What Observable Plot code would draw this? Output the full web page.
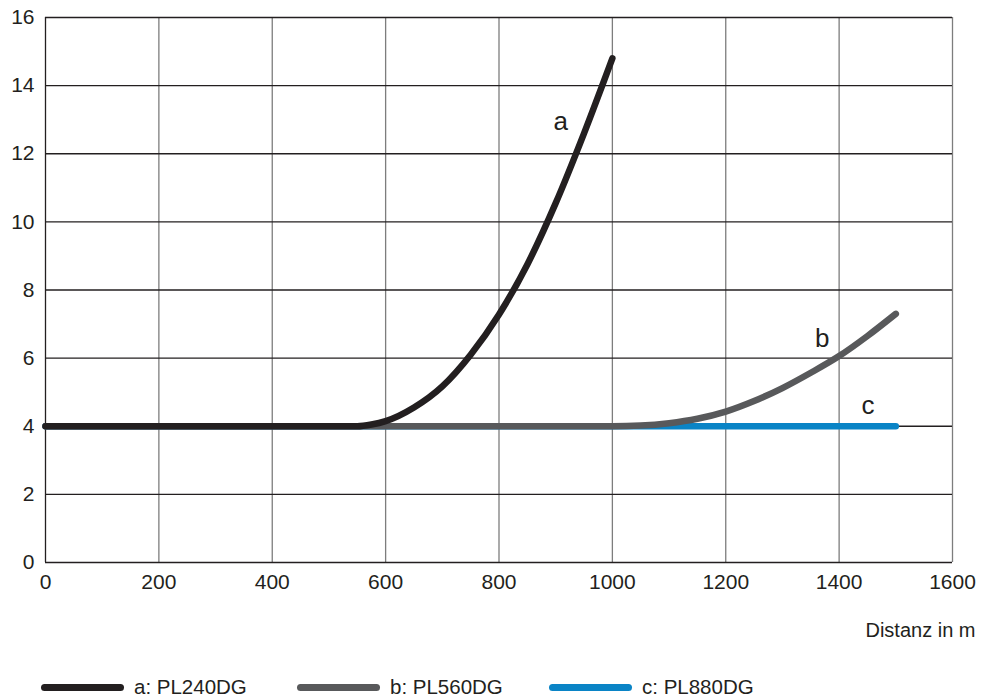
<!DOCTYPE html>
<html>
<head>
<meta charset="utf-8">
<script src="https://cdn.jsdelivr.net/npm/d3@7"></script>
<script src="https://cdn.jsdelivr.net/npm/@observablehq/plot@0.6"></script>
<style>
  html, body { margin: 0; padding: 0; background: #fff; }
  #wrap { position: relative; width: 981px; height: 698px; font-family: "Liberation Sans", Arial, sans-serif; color: #231f20; overflow: hidden; }
  .leg { position: absolute; top: 676px; height: 22px; display: flex; align-items: center; font-size: 20.5px; }
  .sw { width: 83px; height: 7px; border-radius: 4px; margin-right: 10px; }
</style>
</head>
<body>
<div id="wrap"></div>
<script>
// ---- data ----
const xTicks = [0, 200, 400, 600, 800, 1000, 1200, 1400, 1600];
const yTicks = [0, 2, 4, 6, 8, 10, 12, 14, 16];

const seriesNames = ["a: PL240DG", "b: PL560DG", "c: PL880DG"];
const seriesColors = ["#231f20", "#58595b", "#0a84c6"];

const aX = [0, 250, 500, 550, 575, 600, 650, 700, 750, 800, 850, 900, 950, 1000];
const aY = [4, 4, 4, 4.0, 4.05, 4.15, 4.55, 5.17, 6.1, 7.28, 8.75, 10.55, 12.6, 14.8];

const bX = [0, 500, 1000, 1050, 1100, 1150, 1200, 1250, 1300, 1350, 1400, 1450, 1500];
const bY = [4, 4, 4, 4.02, 4.09, 4.22, 4.43, 4.74, 5.12, 5.57, 6.06, 6.65, 7.3];

const cX = [0, 1500];
const cY = [4, 4];

const curveLabels = ["a", "b", "c"];
const labelX = [909, 1370, 1451];
const labelY = [12.95, 6.56, 4.6];

const xLabel = "Distanz in m";

// ---- build ----
const toRows = (xs, ys) => xs.map((x, i) => ({x, y: ys[i]}));
const aData = toRows(aX, aY), bData = toRows(bX, bY), cData = toRows(cX, cY);
const labels = curveLabels.map((t, i) => ({t, x: labelX[i], y: labelY[i]}));

const dark = "#231f20", gray = "#7d7d7d";

const chart = Plot.plot({
  width: 981,
  height: 650,
  marginLeft: 45,
  marginRight: 29,
  marginTop: 17,
  marginBottom: 88,
  style: {fontFamily: '"Liberation Sans", Arial, sans-serif', color: dark, background: "#fff", overflow: "visible"},
  x: {domain: [0, 1600]},
  y: {domain: [0, 16]},
  marks: [
    Plot.ruleX(xTicks.filter(d => d !== 0), {stroke: gray, strokeWidth: 1.3}),
    Plot.ruleY(yTicks, {stroke: dark, strokeWidth: 1.3}),
    Plot.ruleX([0], {stroke: dark, strokeWidth: 1.3}),
    Plot.axisX({ticks: xTicks, tickFormat: d => String(d), tickSize: 0, tickPadding: 12, fontSize: 21, fill: dark, label: null}),
    Plot.axisY({ticks: yTicks, tickFormat: d => String(d), tickSize: 0, tickPadding: 11, fontSize: 21, fill: dark, label: null}),
    Plot.line(cData, {x: "x", y: "y", stroke: seriesColors[2], strokeWidth: 6.5, strokeLinecap: "round", strokeLinejoin: "round"}),
    Plot.line(bData, {x: "x", y: "y", stroke: seriesColors[1], strokeWidth: 6.5, curve: "monotone-x", strokeLinecap: "round", strokeLinejoin: "round"}),
    Plot.line(aData, {x: "x", y: "y", stroke: seriesColors[0], strokeWidth: 6.5, curve: "monotone-x", strokeLinecap: "round", strokeLinejoin: "round"}),
    Plot.text(labels, {x: "x", y: "y", text: "t", fontSize: 26, fill: dark, textAnchor: "middle", lineAnchor: "middle"}),
    Plot.text([xLabel], {frameAnchor: "bottom-right", dx: 23, dy: 68, fontSize: 20, fill: dark, textAnchor: "end", lineAnchor: "middle"})
  ]
});

const wrap = document.getElementById("wrap");
wrap.appendChild(chart);

// legend
const legLeft = [41, 297, 549];
seriesNames.forEach((name, i) => {
  const d = document.createElement("div");
  d.className = "leg";
  d.style.left = legLeft[i] + "px";
  const sw = document.createElement("div");
  sw.className = "sw";
  sw.style.background = seriesColors[i];
  const t = document.createElement("span");
  t.textContent = name;
  d.appendChild(sw);
  d.appendChild(t);
  wrap.appendChild(d);
});
</script>
</body>
</html>
